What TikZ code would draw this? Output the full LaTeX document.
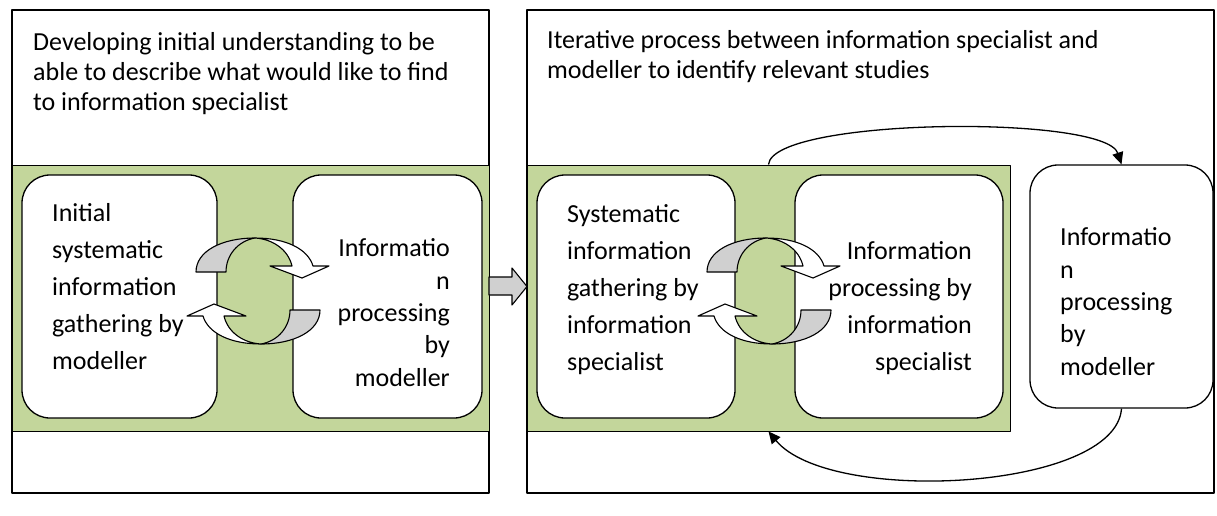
\documentclass[tikz,border=0pt]{standalone}
\usepackage{fontspec}
\setmainfont{Carlito}
\usetikzlibrary{arrows.meta}
\definecolor{bandgreen}{RGB}{195,214,155}
\definecolor{backgray}{RGB}{208,208,208}

\begin{document}
\begin{tikzpicture}[x=1pt, y=-1pt, line join=round, panel/.style={draw, fill=white, line width=1.3pt, inner sep=0pt}, band/.style={draw, fill=bandgreen, line width=0.9pt, inner sep=0pt}, stage/.style={draw, fill=white, rounded corners=28pt, line width=1.3pt, inner sep=0pt, minimum height=243pt}, title/.style={align=left, anchor=base west, inner sep=0pt, font=\fontsize{26}{30}\selectfont}, loose/.style={inner sep=0pt, font=\fontsize{26}{37}\selectfont}, tight/.style={inner sep=0pt, font=\fontsize{26}{32.3}\selectfont}, cyc/.style={draw, line width=1.1pt}, flow/.style={-{Triangle[length=12pt, width=11pt]}, line width=1.3pt}]
\useasboundingbox (0,0) rectangle (1217,515);
\node[panel, minimum width=477pt, minimum height=483pt] (panelL) at (250.5,251.5) {};
\node[panel, minimum width=687pt, minimum height=483pt] (panelR) at (870.5,251.5) {};
\node[band, minimum width=477pt, minimum height=266pt] (bandL) at (250.5,298) {};
\node[band, minimum width=483pt, minimum height=266pt] (bandR) at (768.5,298) {};
% multi-line nodes sit on the baseline of their last line
\node[title] (headL) at (33,110) {Developing initial understanding to be\\able to describe what would like to find\\to information specialist};
\node[title] (headR) at (547,78) {Iterative process between information specialist and\\modeller to identify relevant studies};
\node[stage, minimum width=195pt] (initGather) at (119.5,296.5) {};
\node[stage, minimum width=189pt] (initProcess) at (387.5,296.5) {};
\node[stage, minimum width=198pt] (specGather) at (636,296.5) {};
\node[stage, minimum width=208pt] (specProcess) at (899,296.5) {};
\node[stage, minimum width=183pt] (modProcess) at (1121.5,286.5) {};
% the two turning arrows of each loop
\foreach \cx in {258,769}{\foreach \r in {0,180}{\begin{scope}[shift={(\cx,291)}, rotate=\r]
\draw[cyc, fill=backgray] (-62,-19) .. controls (-62,-40) and (-36,-53) .. (-3,-53) .. controls (-20,-50) and (-32,-36) .. (-32,-19) -- cycle;
\draw[cyc, fill=white] (-3,-53) .. controls (28,-53) and (50,-42) .. (55,-25) -- (71,-25) -- (44,-13) -- (12,-25) -- (34,-25) .. controls (30,-42) and (14,-52) .. (-3,-53) -- cycle;
\end{scope}}}
\draw[cyc, fill=backgray] (489,277) -- (512,277) -- (512,268) -- (527,286.5) -- (512,305) -- (512,295) -- (489,295) -- cycle;
\node[loose, align=left, anchor=base west] (initGatherText) at (52,369) {Initial\\systematic\\information\\gathering by\\modeller};
\node[tight, align=right, anchor=base east] (initProcessText) at (450,386) {Informatio\\n\\processing\\by\\modeller};
\node[loose, align=left, anchor=base west] (specGatherText) at (567,370) {Systematic\\information\\gathering by\\information\\specialist};
\node[loose, align=right, anchor=base east] (specProcessText) at (972,370) {Information\\processing by\\information\\specialist};
\node[tight, align=left, anchor=base west] (modProcessText) at (1060,375) {Informatio\\n\\processing\\by\\modeller};
\draw[flow] (bandR.north) .. controls +(4,-47) and +(-16.5,-50) .. (modProcess.north);
\draw[flow] (modProcess.south) .. controls +(-6,82) and +(61,74) .. (bandR.south);
\end{tikzpicture}
\end{document}
